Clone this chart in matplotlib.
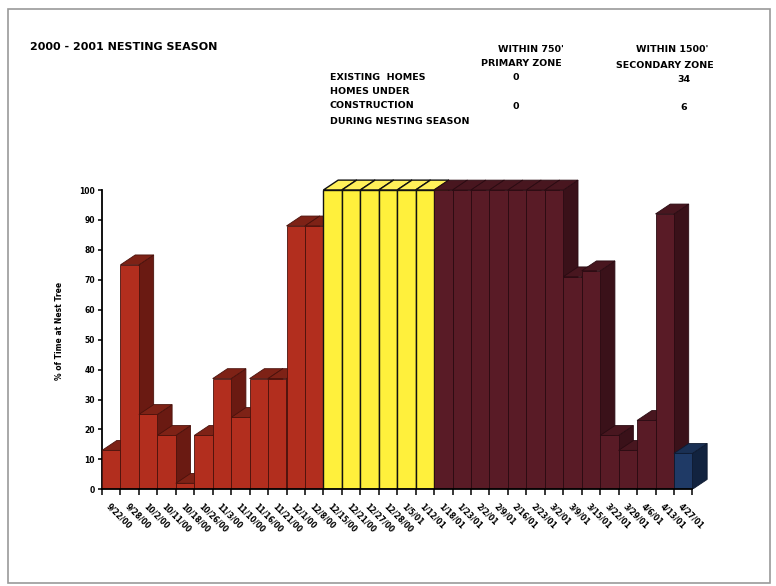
import numpy as np
import matplotlib.pyplot as plt
from matplotlib.patches import Rectangle

plt.rcParams['font.family'] = ['DejaVu Sans']

# weekly observation dates
dates = ['9/22/00', '9/28/00', '10/2/00', '10/11/00', '10/18/00', '10/26/00',
         '11/3/00', '11/10/00', '11/16/00', '11/21/00', '12/1/00', '12/8/00',
         '12/15/00', '12/21/00', '12/27/00', '12/28/00', '1/5/01', '1/12/01',
         '1/18/01', '1/23/01', '2/2/01', '2/9/01', '2/16/01', '2/23/01',
         '3/2/01', '3/9/01', '3/15/01', '3/22/01', '3/29/01', '4/6/01',
         '4/13/01', '4/27/01']

# % of time at nest tree
pct_time = [13, 75, 25, 18, 2, 18, 37, 24, 37, 37, 88, 88,
            100, 100, 100, 100, 100, 100,
            100, 100, 100, 100, 100, 100, 100, 71, 73, 18, 13, 23, 92,
            12]

# nesting phase of each week
phase = ['pre'] * 12 + ['incubation'] * 6 + ['nestling'] * 13 + ['fledged']

# front, side, top, edge
phase_colors = {
    'pre':        ('#B22E1E', '#6A1A12', '#7E2216', '#4A120C'),
    'incubation': ('#FFF03C', '#C8B820', '#FFF05A', '#111111'),
    'nestling':   ('#591B26', '#3A1119', '#48161F', '#2A0B12'),
    'fledged':    ('#1F3A66', '#12233F', '#1A3054', '#0E1A30'),
}

fig = plt.figure(figsize=(7.76, 5.86), dpi=100)
W, H = 776, 586

# axes placed in pixel units
ax_left, ax_bottom_px, ax_w = 102, 489.3, 613
px_per_unit = 2.993
ymax = 106
ax = fig.add_axes([ax_left / W, (H - ax_bottom_px) / H, ax_w / W,
                   ymax * px_per_unit / H])

dx, dy = 0.8, 3.3   # depth offset of the 3-D columns
n = len(pct_time)
for i, (h, ph) in enumerate(zip(pct_time, phase)):
    front, side, top, edge = phase_colors[ph]
    lw = 1.0 if ph == 'incubation' else 0.6
    x0 = i
    z = 2 + 3 * i
    ax.fill([x0 + 1, x0 + 1 + dx, x0 + 1 + dx, x0 + 1],
            [0, dy, h + dy, h], facecolor=side, edgecolor=edge,
            linewidth=lw, zorder=z)
    ax.fill([x0, x0 + 1, x0 + 1 + dx, x0 + dx],
            [h, h, h + dy, h + dy], facecolor=top, edgecolor=edge,
            linewidth=lw, zorder=z + 1)
    ax.bar(x0 + 0.5, h, width=1, color=front, edgecolor=edge,
           linewidth=lw, zorder=z + 2)

ax.set_xlim(0, ax_w / 18.45)
ax.set_ylim(0, ymax)

for s in ['top', 'right']:
    ax.spines[s].set_visible(False)
ax.spines['left'].set_bounds(0, 100)
ax.spines['bottom'].set_bounds(0, n)
ax.spines['left'].set_linewidth(1.3)
ax.spines['bottom'].set_linewidth(1.3)
ax.spines['bottom'].set_zorder(200)

ax.set_yticks(np.arange(0, 101, 10))
ax.set_yticklabels([str(v) for v in range(0, 101, 10)],
                   fontsize=5.5, fontweight='bold')
ax.tick_params(axis='y', length=3, width=1.1, pad=2)

ax.set_xticks(np.arange(n) + 0.5)
ax.set_xticklabels(dates, rotation=-45, ha='left', va='top',
                   rotation_mode='anchor', fontsize=5.5, fontweight='bold')
ax.set_xticks(np.arange(n + 1), minor=True)
ax.tick_params(axis='x', which='major', length=0, pad=9)
ax.tick_params(axis='x', which='minor', length=4, width=1.1)

ax.set_ylabel('% of Time at Nest Tree', fontsize=5.5, fontweight='bold',
              labelpad=11)


# header text
def ftext(x, y, s, size=6.8, **kw):
    fig.text(x / W, 1 - y / H, s, fontsize=size, fontweight='bold',
             va='center', **kw)


ftext(30, 47, '2000 - 2001 NESTING SEASON', size=8, ha='left')
ftext(531, 49, "WITHIN 750'", ha='center')
ftext(521, 63, 'PRIMARY ZONE', ha='center')
ftext(672, 50, "WITHIN 1500'", ha='center')
ftext(665, 65, 'SECONDARY ZONE', ha='center')
ftext(330, 77, 'EXISTING  HOMES', ha='left')
ftext(330, 91, 'HOMES UNDER', ha='left')
ftext(330, 106, 'CONSTRUCTION', ha='left')
ftext(330, 121, 'DURING NESTING SEASON', ha='left')
ftext(516, 78, '0', ha='center')
ftext(684, 79, '34', ha='center')
ftext(516, 107, '0', ha='center')
ftext(684, 108, '6', ha='center')

# page frame
fig.patches.append(Rectangle((8 / W, 1 - 583 / H), 762 / W, 574 / H,
                             transform=fig.transFigure, fill=False,
                             edgecolor='#9a9a9a', linewidth=1.2))

fig.savefig('out.png', dpi=100)
